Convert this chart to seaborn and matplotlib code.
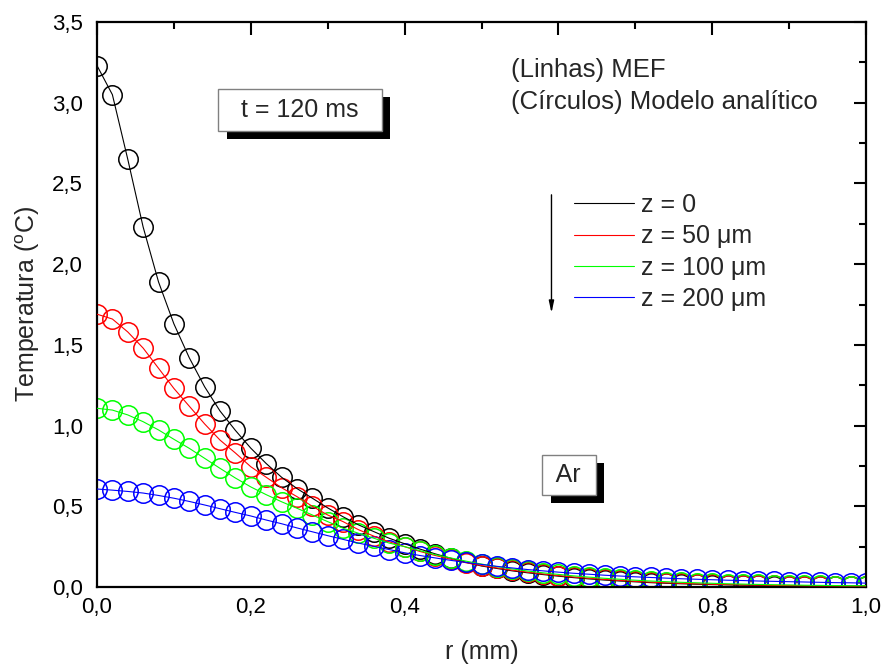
import numpy as np
import pandas as pd
import matplotlib
matplotlib.use("Agg")
import matplotlib.pyplot as plt
import matplotlib.ticker as mticker
import matplotlib.patheffects as pe
from matplotlib.lines import Line2D
import seaborn as sns

# ---------------- data ----------------
r_mm = [0.00, 0.02, 0.04, 0.06, 0.08, 0.10, 0.12, 0.14, 0.16, 0.18,
        0.20, 0.22, 0.24, 0.26, 0.28, 0.30, 0.32, 0.34, 0.36, 0.38,
        0.40, 0.42, 0.44, 0.46, 0.48, 0.50, 0.52, 0.54, 0.56, 0.58,
        0.60, 0.62, 0.64, 0.66, 0.68, 0.70, 0.72, 0.74, 0.76, 0.78,
        0.80, 0.82, 0.84, 0.86, 0.88, 0.90, 0.92, 0.94, 0.96, 0.98, 1.00]

z0 = [3.23, 3.05, 2.65, 2.23, 1.89, 1.63, 1.42, 1.24, 1.09, 0.97,
      0.86, 0.765, 0.68, 0.61, 0.55, 0.49, 0.435, 0.385, 0.343, 0.302,
      0.268, 0.235, 0.205, 0.178, 0.153, 0.130, 0.115, 0.100, 0.088, 0.077,
      0.067, 0.058, 0.050, 0.043, 0.037, 0.032, 0.027, 0.023, 0.020, 0.017,
      0.015, 0.013, 0.011, 0.010, 0.009, 0.008, 0.007, 0.006, 0.006, 0.005, 0.005]

z50 = [1.69, 1.66, 1.58, 1.48, 1.355, 1.23, 1.12, 1.01, 0.91, 0.83,
       0.745, 0.68, 0.615, 0.56, 0.50, 0.446, 0.405, 0.355, 0.315, 0.28,
       0.25, 0.22, 0.195, 0.172, 0.150, 0.133, 0.118, 0.104, 0.092, 0.081,
       0.071, 0.062, 0.054, 0.047, 0.041, 0.035, 0.030, 0.026, 0.023, 0.020,
       0.017, 0.015, 0.013, 0.012, 0.010, 0.009, 0.008, 0.007, 0.007, 0.006, 0.006]

z100 = [1.107, 1.096, 1.066, 1.024, 0.973, 0.915, 0.859, 0.797, 0.735, 0.675,
        0.62, 0.572, 0.528, 0.488, 0.446, 0.405, 0.364, 0.333, 0.302, 0.272,
        0.25, 0.225, 0.200, 0.180, 0.160, 0.142, 0.126, 0.112, 0.099, 0.088,
        0.078, 0.069, 0.061, 0.054, 0.048, 0.042, 0.037, 0.033, 0.029, 0.026,
        0.023, 0.020, 0.018, 0.016, 0.014, 0.013, 0.011, 0.010, 0.009, 0.008, 0.008]

z200 = [0.607, 0.600, 0.592, 0.582, 0.567, 0.550, 0.530, 0.508, 0.485, 0.462,
        0.440, 0.415, 0.392, 0.366, 0.342, 0.318, 0.295, 0.272, 0.252, 0.232,
        0.212, 0.195, 0.180, 0.165, 0.152, 0.140, 0.128, 0.118, 0.108, 0.100,
        0.092, 0.085, 0.079, 0.073, 0.068, 0.063, 0.059, 0.055, 0.051, 0.048,
        0.045, 0.042, 0.040, 0.037, 0.035, 0.033, 0.031, 0.029, 0.027, 0.026, 0.024]

series_labels = ["z = 0", "z = 50 \u03bcm", "z = 100 \u03bcm", "z = 200 \u03bcm"]
series_colors = ["#000000", "#ff0000", "#00ff00", "#0000ff"]

x_ticks = [0.0, 0.2, 0.4, 0.6, 0.8, 1.0]
x_ticklabels = ["0,0", "0,2", "0,4", "0,6", "0,8", "1,0"]
y_ticks = [0.0, 0.5, 1.0, 1.5, 2.0, 2.5, 3.0, 3.5]
y_ticklabels = ["0,0", "0,5", "1,0", "1,5", "2,0", "2,5", "3,0", "3,5"]

# ---------------- style ----------------
sns.set_style("white")
plt.rcParams["font.family"] = ["Liberation Sans", "DejaVu Sans"]
plt.rcParams["mathtext.fontset"] = "custom"
plt.rcParams["mathtext.rm"] = "Liberation Sans"

df = pd.DataFrame({
    "r": r_mm * 4,
    "T": z0 + z50 + z100 + z200,
    "serie": sum([[lab] * len(r_mm) for lab in series_labels], []),
})
palette = dict(zip(series_labels, series_colors))

fig = plt.figure(figsize=(8.84, 6.66), dpi=100)
ax = fig.add_axes([97 / 884, 79 / 666, 769 / 884, 565 / 666])

# lines (MEF)
sns.lineplot(data=df, x="r", y="T", hue="serie", palette=palette,
             linewidth=0.8, ax=ax, legend=False, sort=False, zorder=3)
# circles (analytic model)
for lab in series_labels:
    sub = df[df["serie"] == lab]
    sns.lineplot(data=sub, x="r", y="T", color=palette[lab], linestyle="none",
                 marker="o", markersize=14, markerfacecolor="none",
                 markeredgecolor=palette[lab], markeredgewidth=1.1,
                 ax=ax, legend=False, sort=False, zorder=2)

ax.set_xlim(0, 1.0)
ax.set_ylim(0, 3.5)
ax.xaxis.set_major_locator(mticker.FixedLocator(x_ticks))
ax.xaxis.set_major_formatter(mticker.FixedFormatter(x_ticklabels))
ax.yaxis.set_major_locator(mticker.FixedLocator(y_ticks))
ax.yaxis.set_major_formatter(mticker.FixedFormatter(y_ticklabels))
ax.xaxis.set_minor_locator(mticker.MultipleLocator(0.1))
ax.yaxis.set_minor_locator(mticker.MultipleLocator(0.25))
ax.tick_params(which="both", direction="in", top=True, right=True,
               width=1.5, colors="black", labelsize=16)
ax.tick_params(which="major", length=9)
ax.tick_params(which="minor", length=5)
ax.tick_params(axis="x", pad=7)
ax.tick_params(axis="y", pad=10)
for sp in ax.spines.values():
    sp.set_linewidth(1.6)
    sp.set_color("black")

ax.set_xlabel("r (mm)", fontsize=18, labelpad=16)
ax.set_ylabel(r"Temperatura ($^{\rm o}$C)", fontsize=18, labelpad=7)

# annotations
ax.text(0.539, 0.915, "(Linhas) MEF", transform=ax.transAxes, fontsize=18.5,
        va="center", ha="left")
ax.text(0.539, 0.859, "(C\u00edrculos) Modelo anal\u00edtico", transform=ax.transAxes,
        fontsize=18.5, va="center", ha="left")

def shadow_box(txt, x, y, pad):
    t = ax.text(x, y, txt, transform=ax.transAxes, fontsize=18, ha="center",
                va="center", zorder=6,
                bbox=dict(boxstyle=f"square,pad={pad}", fc="white", ec="#808080", lw=1))
    t.get_bbox_patch().set_path_effects([
        pe.SimplePatchShadow(offset=(6, -6), shadow_rgbFace="black", alpha=1.0),
        pe.Normal()])

shadow_box("  t = 120 ms  ", 0.264, 0.845, 0.36)
shadow_box(" Ar ", 0.614, 0.198, 0.32)

# arrow
ax.annotate("", xy=(0.591, 0.48), xytext=(0.591, 0.699), xycoords="axes fraction",
            arrowprops=dict(arrowstyle="-|>,head_length=0.7,head_width=0.15",
                            color="black", lw=1))

handles = [Line2D([0], [0], color=c, lw=0.8) for c in series_colors]
ax.legend(handles, series_labels, loc="upper left", bbox_to_anchor=(0.62, 0.697),
          frameon=False, fontsize=18, handlelength=2.4, handletextpad=0.3,
          labelspacing=0.29, borderpad=0, borderaxespad=0)

fig.savefig("out.png", dpi=100)
